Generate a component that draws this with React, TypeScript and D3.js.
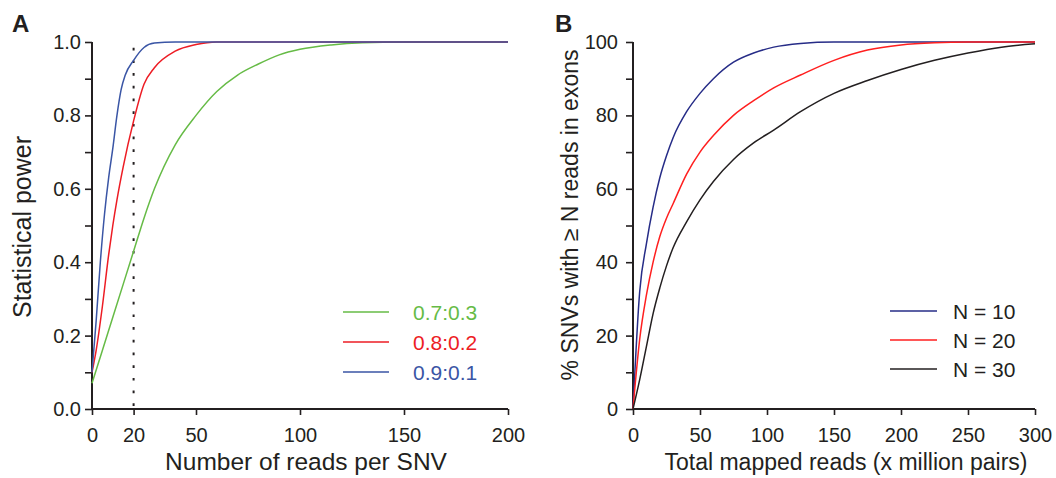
import React, { useEffect, useRef } from 'react';
import * as d3 from 'd3';

const W = 1056;
const H = 478;
const FONT = '"Liberation Sans", Arial, Helvetica, sans-serif';
const INK = '#231f20';

// panel A: statistical power vs reads per SNV
const greenReads = [0, 10, 20, 25, 30, 40, 50, 60, 70, 80, 90, 100, 115, 130, 150, 200];
const greenPower = [0.07, 0.25, 0.43, 0.52, 0.6, 0.72, 0.8, 0.865, 0.91, 0.94, 0.965, 0.98, 0.992, 0.998, 1, 1];
const redReads = [0, 2, 5, 8, 10, 12, 15, 20, 25, 30, 40, 50, 60, 200];
const redPower = [0.1, 0.16, 0.28, 0.42, 0.5, 0.57, 0.66, 0.785, 0.885, 0.93, 0.975, 0.993, 1, 1];
const blueReads = [0, 2, 4, 6, 8, 10, 12, 14, 16, 20, 25, 30, 40, 200];
const bluePower = [0.1, 0.24, 0.4, 0.53, 0.63, 0.71, 0.8, 0.87, 0.91, 0.95, 0.985, 0.997, 1, 1];
const ratioLabels = ['0.7:0.3', '0.8:0.2', '0.9:0.1'];
const readTicks = [0, 20, 50, 100, 150, 200];
const cutoffReads = 20;

// panel B: % SNVs covered vs total mapped reads
const mappedReads = [0, 5, 10, 15, 20, 25, 30, 40, 50, 60, 75, 90, 105, 125, 150, 175, 200, 225, 250, 275, 300];
const pctN10 = [0, 32, 45, 55, 63, 69, 74, 81, 86, 90, 94.5, 97, 98.6, 99.6, 100, 100, 100, 100, 100, 100, 100];
const pctN20 = [0, 19, 31, 40, 47, 52, 56, 64, 70, 74.5, 80, 84, 87.5, 91, 95, 97.8, 99.2, 99.8, 100, 100, 100];
const pctN30 = [0, 8, 17, 26, 33, 39, 44, 51, 57, 62, 68, 72.5, 76, 81, 86, 89.5, 92.5, 95, 97, 98.6, 99.5];
const nLabels = ['N = 10', 'N = 20', 'N = 30'];

const colorsA = ['#66bb46', '#ed1c24', '#3a55a5'];
const colorsB = ['#262c87', '#ff1f1f', INK];

const TICK_FS = 20;
const LEGEND_FS = 21;

function styleAxis(g: d3.Selection<SVGGElement, unknown, null, undefined>) {
  g.select('.domain').attr('stroke', INK).attr('stroke-width', 2);
  g.selectAll('.tick line').attr('stroke', INK).attr('stroke-width', 1.6);
  g.selectAll('.tick text').attr('fill', INK).attr('font-family', FONT).attr('font-size', TICK_FS);
}

function App() {
  const ref = useRef<SVGSVGElement>(null);

  useEffect(() => {
    const svg = d3.select(ref.current);
    svg.selectAll('*').remove();

    const top = 42, bottom = 409;

    // ---------- panel A ----------
    const xA = d3.scaleLinear().domain([0, 200]).range([92, 508]);
    const yA = d3.scaleLinear().domain([0, 1]).range([bottom, top]);
    const gA = svg.append('g');

    const yAxA = gA.append('g').attr('transform', `translate(${xA(0)},0)`)
      .call(d3.axisLeft(yA).tickValues(d3.range(0, 1.01, 0.1)).tickSize(7).tickPadding(4)
        .tickFormat((d: any) => (Math.round(d * 10) % 2 === 0 ? d3.format('.1f')(d) : '')));
    styleAxis(yAxA);
    yAxA.select('.domain').attr('d', `M0,${yA(0)}V${yA(1)}`);
    const xAxA = gA.append('g').attr('transform', `translate(0,${bottom})`)
      .call(d3.axisBottom(xA).tickValues(readTicks).tickSize(6).tickPadding(13));
    styleAxis(xAxA);
    xAxA.select('.domain').attr('d', `M${xA(0)},0H${xA(200)}`);

    gA.append('line')
      .attr('x1', xA(cutoffReads)).attr('x2', xA(cutoffReads))
      .attr('y1', yA(0) - 3).attr('y2', yA(1))
      .attr('stroke', INK).attr('stroke-width', 2).attr('stroke-dasharray', '2.7,10');

    const seriesA = [
      { xs: greenReads, ys: greenPower },
      { xs: redReads, ys: redPower },
      { xs: blueReads, ys: bluePower },
    ];
    const lineA = d3.line<[number, number]>().x(d => xA(d[0])).y(d => yA(d[1])).curve(d3.curveMonotoneX);
    seriesA.forEach((s, i) => {
      gA.append('path')
        .attr('d', lineA(s.xs.map((x, j) => [x, s.ys[j]] as [number, number])))
        .attr('fill', 'none').attr('stroke', colorsA[i]).attr('stroke-width', 1.5);
    });

    ratioLabels.forEach((lab, i) => {
      const y = 312 + i * 30;
      gA.append('line').attr('x1', 343).attr('x2', 389).attr('y1', y).attr('y2', y)
        .attr('stroke', colorsA[i]).attr('stroke-width', 1.5);
      gA.append('text').attr('x', 413).attr('y', y + 7.5).text(lab)
        .attr('fill', colorsA[i]).attr('font-family', FONT).attr('font-size', LEGEND_FS);
    });

    gA.append('text').attr('x', 306).attr('y', 470).attr('text-anchor', 'middle')
      .attr('font-family', FONT).attr('font-size', 24.5).attr('fill', INK).text('Number of reads per SNV');
    gA.append('text').attr('transform', `translate(31,227) rotate(-90)`)
      .attr('text-anchor', 'middle').attr('font-family', FONT).attr('font-size', 25).attr('fill', INK)
      .text('Statistical power');
    gA.append('text').attr('x', 12).attr('y', 32).attr('font-family', FONT).attr('font-weight', 'bold')
      .attr('font-size', 24).attr('fill', INK).text('A');

    // ---------- panel B ----------
    const xB = d3.scaleLinear().domain([0, 300]).range([633, 1035]);
    const yB = d3.scaleLinear().domain([0, 100]).range([bottom, top]);
    const gB = svg.append('g');

    const yAxB = gB.append('g').attr('transform', `translate(${xB(0)},0)`)
      .call(d3.axisLeft(yB).tickValues(d3.range(0, 101, 10)).tickSize(7).tickPadding(8)
        .tickFormat((d: any) => (d % 20 === 0 ? String(d) : '')));
    styleAxis(yAxB);
    yAxB.select('.domain').attr('d', `M0,${yB(0)}V${yB(100)}`);
    const xAxB = gB.append('g').attr('transform', `translate(0,${bottom})`)
      .call(d3.axisBottom(xB).tickValues(d3.range(0, 301, 50)).tickSize(6).tickPadding(13));
    styleAxis(xAxB);
    xAxB.select('.domain').attr('d', `M${xB(0)},0H${xB(300)}`);

    const lineB = d3.line<number>().x((d, j) => xB(mappedReads[j])).y(d => yB(d)).curve(d3.curveMonotoneX);
    [pctN10, pctN20, pctN30].forEach((s, i) => {
      gB.append('path').attr('d', lineB(s)).attr('fill', 'none')
        .attr('stroke', colorsB[i]).attr('stroke-width', 1.5);
    });

    nLabels.forEach((lab, i) => {
      const y = 311 + i * 29;
      gB.append('line').attr('x1', 890).attr('x2', 937).attr('y1', y).attr('y2', y)
        .attr('stroke', colorsB[i]).attr('stroke-width', 1.5);
      gB.append('text').attr('x', 953).attr('y', y + 7.5).text(lab)
        .attr('fill', INK).attr('font-family', FONT).attr('font-size', LEGEND_FS);
    });

    gB.append('text').attr('x', 846).attr('y', 470).attr('text-anchor', 'middle')
      .attr('font-family', FONT).attr('font-size', 23).attr('fill', INK).text('Total mapped reads (x million pairs)');
    gB.append('text').attr('transform', `translate(578,215) rotate(-90)`)
      .attr('text-anchor', 'middle').attr('font-family', FONT).attr('font-size', 23).attr('fill', INK)
      .text('% SNVs with \u2265 N reads in exons');
    gB.append('text').attr('x', 555).attr('y', 32).attr('font-family', FONT).attr('font-weight', 'bold')
      .attr('font-size', 24).attr('fill', INK).text('B');
  }, []);

  return (
    <svg ref={ref} width={W} height={H} viewBox={`0 0 ${W} ${H}`}
      style={{ position: 'absolute', left: 0, top: 0, background: '#fff', display: 'block' }} />
  );
}

export default App;
